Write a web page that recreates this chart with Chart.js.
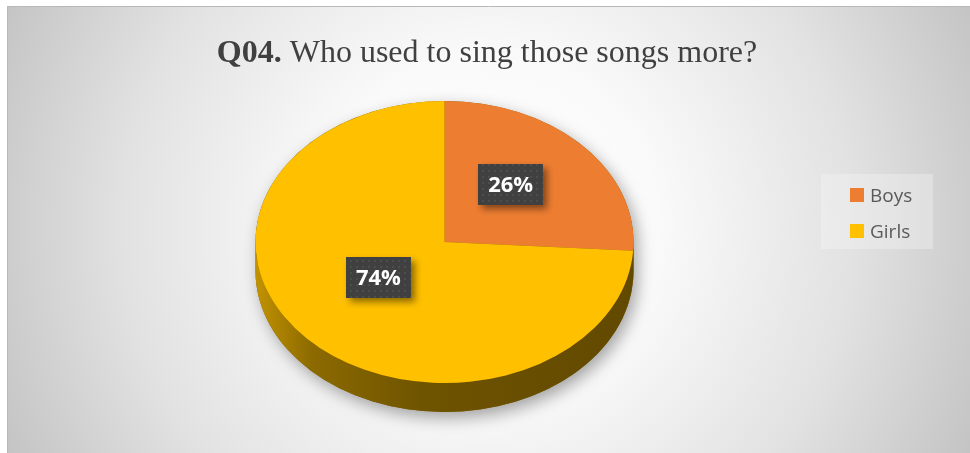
<!DOCTYPE html>
<html><head><meta charset="utf-8">
<script src="https://cdn.jsdelivr.net/npm/chart.js@4.4.1/dist/chart.umd.min.js"></script>
<style>html,body{margin:0;padding:0;background:#fff}#wrap{width:970px;height:453px;position:relative}canvas{display:block}</style>
</head><body><div id="wrap"><canvas id="c" width="970" height="453"></canvas></div>
<script>
const titleBold = 'Q04.';
const titleRest = ' Who used to sing those songs more?';
const categories = ['Boys', 'Girls'];
const values = [26, 74];
const valueLabels = ['26%', '74%'];
const colors = ['#ED7D31', '#FFC000'];

const TILT = 141 / 189;   // vertical squash of the 3D pie
const DEPTH = 29;         // pie thickness
const LABEL_DY = -11;     // perspective correction for label placement

function darken(hex, f) {
  const n = parseInt(hex.slice(1), 16);
  const r = Math.round(((n >> 16) & 255) * f), g = Math.round(((n >> 8) & 255) * f), b = Math.round((n & 255) * f);
  return `rgb(${r},${g},${b})`;
}

const pie3d = {
  id: 'pie3d',
  beforeDraw(chart) {
    const ctx = chart.ctx;
    ctx.save();
    ctx.fillStyle = '#fff';
    ctx.fillRect(0, 0, chart.width, chart.height);
    const g = ctx.createRadialGradient(488, 225, 0, 488, 225, 560);
    g.addColorStop(0, '#ffffff');
    g.addColorStop(0.3, '#fafafa');
    g.addColorStop(0.65, '#e2e2e2');
    g.addColorStop(1, '#bfbfbf');
    ctx.fillStyle = g;
    ctx.fillRect(7, 6, chart.width - 7, chart.height - 6);
    ctx.strokeStyle = '#b8b8b8';
    ctx.lineWidth = 1;
    ctx.beginPath();
    ctx.moveTo(7.5, chart.height); ctx.lineTo(7.5, 6.5); ctx.lineTo(chart.width, 6.5);
    ctx.stroke();
    ctx.restore();
  },
  beforeDatasetsDraw(chart) {
    const ctx = chart.ctx;
    const meta = chart.getDatasetMeta(0);
    const a0 = meta.data[0];
    const cx = a0.x, cy = a0.y, r = a0.outerRadius, ry = r * TILT;
    // shadow silhouette
    ctx.save();
    ctx.shadowColor = 'rgba(0,0,0,0.35)';
    ctx.shadowBlur = 16;
    ctx.shadowOffsetX = 4;
    ctx.shadowOffsetY = 6;
    ctx.fillStyle = '#7a5c00';
    ctx.beginPath();
    ctx.ellipse(cx, cy, r, ry, 0, Math.PI, 0, false);
    ctx.lineTo(cx + r, cy + DEPTH);
    ctx.ellipse(cx, cy + DEPTH, r, ry, 0, 0, Math.PI, false);
    ctx.closePath();
    ctx.fill();
    ctx.restore();
    // sides of slices (front half only)
    meta.data.forEach((arc, i) => {
      const s = arc.startAngle, e = arc.endAngle;
      const segs = [];
      for (let k = -1; k <= 1; k++) {
        const lo = Math.max(s, k * 2 * Math.PI), hi = Math.min(e, k * 2 * Math.PI + Math.PI);
        if (hi > lo) segs.push([lo, hi]);
      }
      segs.forEach(([lo, hi]) => {
        const grad = ctx.createLinearGradient(cx - r, 0, cx + r, 0);
        const base = colors[i];
        grad.addColorStop(0, darken(base, 0.76));
        grad.addColorStop(0.15, darken(base, 0.55));
        grad.addColorStop(0.45, darken(base, 0.43));
        grad.addColorStop(1, darken(base, 0.38));
        ctx.save();
        ctx.fillStyle = grad;
        ctx.beginPath();
        ctx.ellipse(cx, cy, r, ry, 0, lo, hi, false);
        ctx.lineTo(cx + r * Math.cos(hi), cy + ry * Math.sin(hi) + DEPTH);
        ctx.ellipse(cx, cy + DEPTH, r, ry, 0, hi, lo, true);
        ctx.closePath();
        ctx.fill();
        ctx.restore();
      });
    });
    ctx.save();
    ctx.translate(cx, cy);
    ctx.scale(1, TILT);
    ctx.translate(-cx, -cy);
  },
  afterDatasetsDraw(chart) {
    const ctx = chart.ctx;
    ctx.restore();
    const meta = chart.getDatasetMeta(0);
    // data labels
    const pc = document.createElement('canvas');
    pc.width = 6; pc.height = 6;
    const p = pc.getContext('2d');
    p.fillStyle = '#404040'; p.fillRect(0, 0, 6, 6);
    p.fillStyle = '#4d4d4d'; p.fillRect(2, 2, 2, 2);
    const pattern = ctx.createPattern(pc, 'repeat');
    meta.data.forEach((arc, i) => {
      const mid = (arc.startAngle + arc.endAngle) / 2;
      const f = 0.48;
      const x = arc.x + arc.outerRadius * f * Math.cos(mid);
      const y = arc.y + arc.outerRadius * TILT * f * Math.sin(mid) + LABEL_DY;
      ctx.save();
      ctx.font = 'bold 22px "Open Sans"';
      const tw = ctx.measureText(valueLabels[i]).width;
      const bw = tw + 20, bh = 41;
      ctx.shadowColor = 'rgba(0,0,0,0.45)';
      ctx.shadowBlur = 7;
      ctx.shadowOffsetX = 4;
      ctx.shadowOffsetY = 4;
      ctx.fillStyle = pattern;
      ctx.fillRect(Math.round(x - bw / 2), Math.round(y - bh / 2), Math.round(bw), bh);
      ctx.restore();
      ctx.save();
      ctx.font = 'bold 22px "Open Sans"';
      ctx.fillStyle = '#ffffff';
      ctx.textAlign = 'center';
      ctx.textBaseline = 'middle';
      ctx.fillText(valueLabels[i], x, y + 1);
      ctx.restore();
    });
    // legend
    ctx.save();
    ctx.fillStyle = 'rgba(245,245,245,0.35)';
    ctx.fillRect(821, 174, 112, 75);
    ctx.font = '19px "Open Sans"';
    ctx.textBaseline = 'alphabetic';
    categories.forEach((c, i) => {
      const y = 188 + i * 36;
      ctx.fillStyle = colors[i];
      ctx.fillRect(850, y, 14, 14);
      ctx.fillStyle = '#595959';
      ctx.fillText(c, 870, y + 14);
    });
    ctx.restore();
    // title
    ctx.save();
    ctx.fillStyle = '#404040';
    ctx.textBaseline = 'alphabetic';
    const fb = 'bold 32px "Liberation Serif"', fr = '32px "Liberation Serif"';
    ctx.font = fb; const w1 = ctx.measureText(titleBold).width;
    ctx.font = fr; const w2 = ctx.measureText(titleRest).width;
    const x0 = 487 - (w1 + w2) / 2;
    ctx.font = fb; ctx.fillText(titleBold, x0, 62);
    ctx.font = fr; ctx.fillText(titleRest, x0 + w1, 62);
    ctx.restore();
  }
};

new Chart(document.getElementById('c'), {
  type: 'pie',
  data: {
    labels: categories,
    datasets: [{ data: values, backgroundColor: colors, borderWidth: 0 }]
  },
  options: {
    responsive: false,
    animation: false,
    layout: { padding: { left: 255.5, right: 336.5, top: 53, bottom: 22 } },
    plugins: { legend: { display: false }, tooltip: { enabled: false }, title: { display: false } }
  },
  plugins: [pie3d]
});
</script>
</body></html>
